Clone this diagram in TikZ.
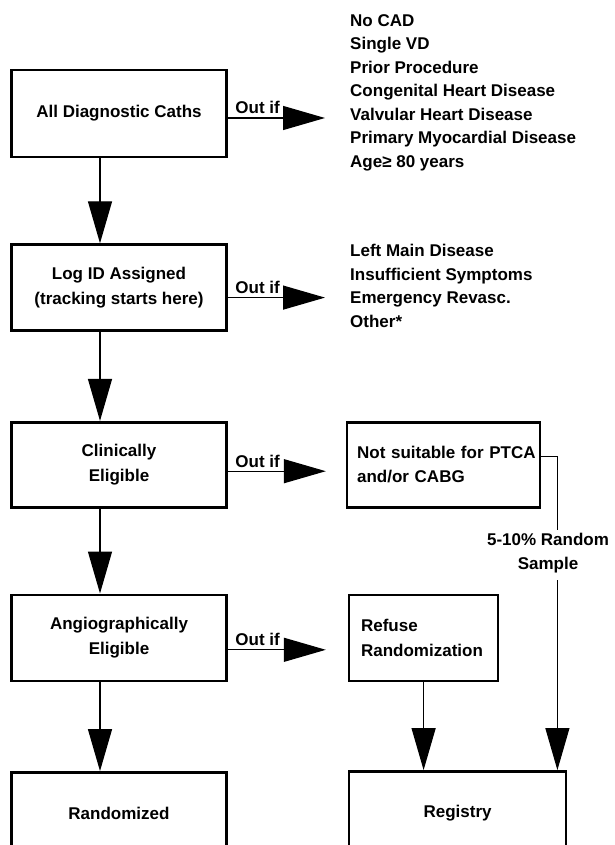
\documentclass[tikz,border=0pt]{standalone}
\usepackage{fontspec}
\setmainfont{Liberation Sans}
\usepackage{tikz}
\usetikzlibrary{arrows.meta, positioning}
\newcommand{\flowfont}{\fontsize{17}{24.5}\selectfont\bfseries}
\newcommand{\listfont}{\fontsize{17}{23.5}\selectfont\bfseries}

\begin{document}
\begin{tikzpicture}[
  x=1pt, y=-1pt,
  stage/.style={draw, line width=2.6pt, minimum width=215pt, minimum height=86pt,
                inner sep=0pt, align=center, font=\flowfont},
  sidebox/.style={stage, align=left, inner xsep=12pt, minimum width=0pt},
  reason/.style={align=left, inner sep=0pt, anchor=north west, font=\listfont},
  outif/.style={pos=0, anchor=base west, xshift=7pt, yshift=4pt, inner sep=0pt,
                font=\flowfont},
  arrow/.style={-{Triangle[length=42pt, width=24pt]}, line width=1.3pt},
  thinline/.style={line width=1pt},
]
\path[use as bounding box] (0,0) rectangle (614,845);

%% main column
\node[stage, minimum height=87pt] (all) at (119,113.5) {All Diagnostic Caths};
\node[stage, below=85pt of all] (logid) {Log ID Assigned\\(tracking starts here)};
\node[stage, below=89pt of logid, minimum height=85pt] (clin) {Clinically\\Eligible};
\node[stage, below=85pt of clin] (angio) {Angiographically\\Eligible};
\node[stage, below=89pt of angio, minimum height=82pt] (rand) {Randomized};

%% side boxes
\node[sidebox, inner xsep=10pt, text width=173pt, minimum height=85pt,
      right=118pt of clin] (unsuit) {\mbox{Not suitable for PTCA}\\and/or CABG};
\node[sidebox, text width=125pt, right=120pt of angio] (refuse) {Refuse\\Randomization};
\node[stage, minimum width=217pt, minimum height=84pt, right=120pt of rand] (registry)
  {Registry};

%% exclusion lists
\node[reason] (excl1) at (350,14) {No CAD\\Single VD\\Prior Procedure\\
  Congenital Heart Disease\\Valvular Heart Disease\\Primary Myocardial Disease\\
  Age≥ 80 years};
\node[reason] (excl2) at (350,244) {Left Main Disease\\Insufficient Symptoms\\
  Emergency Revasc.\\Other*};

%% random sample label
\node[font=\flowfont, align=center, inner sep=0pt] (sample) at (548,553)
  {5-10\% Random\\Sample};
\coordinate (tap) at ([xshift=16pt, yshift=8pt]unsuit.east);

%% arrows
\draw[arrow] ([xshift=-19pt]all.south) -- ([xshift=-19pt]logid.north);
\draw[arrow] ([xshift=-19pt]logid.south) -- ([xshift=-19pt]clin.north);
\draw[arrow] ([xshift=-19pt]clin.south) -- ([xshift=-19pt]angio.north);
\draw[arrow] ([xshift=-19pt]angio.south) -- ([xshift=-19pt]rand.north);

\draw[arrow, shorten >=25pt] ([yshift=-4.5pt]all.east) -- node[outif] {Out if}
  ([yshift=-4.5pt]all.east -| excl1.west);
\draw[arrow, shorten >=25pt] ([yshift=-10pt]logid.east) -- node[outif] {Out if}
  ([yshift=-10pt]logid.east -| excl2.west);
\draw[arrow, shorten >=20pt] ([yshift=-6.5pt]clin.east) -- node[outif] {Out if}
  ([yshift=-6.5pt]clin.east -| unsuit.west);
\draw[arrow, shorten >=22pt] ([yshift=-12pt]angio.east) -- node[outif] {Out if}
  ([yshift=-12pt]angio.east -| refuse.west);

\draw[arrow] (refuse) -- (refuse |- registry.north);
\draw[thinline, shorten >=3pt] ([yshift=8pt]unsuit.east) -- (tap) -- (tap |- sample.north);
\draw[arrow, line width=1pt, shorten <=7pt] (tap |- sample.south) -- (tap |- registry.north);

\end{tikzpicture}
\end{document}
